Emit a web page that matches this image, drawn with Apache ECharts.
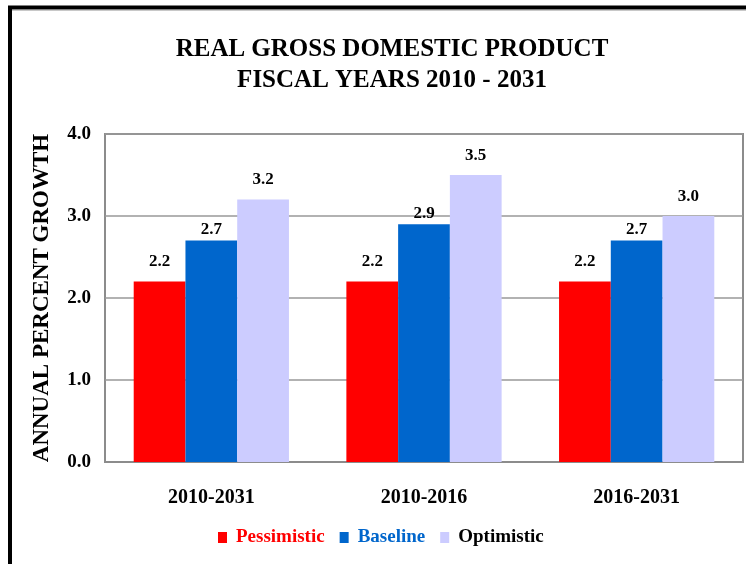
<!DOCTYPE html>
<html>
<head>
<meta charset="utf-8">
<script src="https://cdn.jsdelivr.net/npm/echarts@6/dist/echarts.min.js"></script>
<style>
  html, body { margin: 0; padding: 0; background: #fff; }
  #chart { width: 746px; height: 564px; }
</style>
</head>
<body>
<div id="chart"></div>
<script>
// data
const categories = ['2010-2031', '2010-2016', '2016-2031']
const seriesNames = ['Pessimistic', 'Baseline', 'Optimistic']
const pessimistic = [2.2, 2.2, 2.2]
const baseline = [2.7, 2.9, 2.7]
const optimistic = [3.2, 3.5, 3.0]
const yMin = 0
const yMax = 4
const yStep = 1

const colors = ['#ff0000', '#0066cc', '#ccccff']
const legendTextColors = ['#ff0000', '#0066cc', '#000000']
const font = '"Liberation Serif", "Times New Roman", serif'

const chart = echarts.init(document.getElementById('chart'))

function barSeries(name, values, idx, dist) {
  return {
    name: name,
    type: 'bar',
    data: values,
    barGap: '0%',
    barCategoryGap: '27%',
    itemStyle: { color: colors[idx] },
    label: {
      show: true,
      position: 'top',
      distance: dist,
      color: '#000',
      fontFamily: font,
      fontWeight: 'bold',
      fontSize: 17,
      formatter: p => p.value.toFixed(1)
    }
  }
}

const option = {
  animation: false,
  backgroundColor: '#fff',
  title: {
    text: 'REAL GROSS DOMESTIC PRODUCT\nFISCAL YEARS 2010 - 2031',
    left: 387,
    top: 29,
    textAlign: 'center',
    textStyle: {
      fontFamily: font,
      fontWeight: 'bold',
      fontSize: 25,
      lineHeight: 31,
      color: '#000'
    }
  },
  legend: {
    bottom: 12,
    left: 213,
    icon: 'rect',
    itemWidth: 9,
    itemHeight: 11,
    itemGap: 15,
    data: seriesNames.map((n, i) => ({
      name: n,
      textStyle: { color: legendTextColors[i] }
    })),
    textStyle: {
      fontFamily: font,
      fontWeight: 'bold',
      fontSize: 19,
      padding: [0, 0, 0, 4]
    }
  },
  grid: {
    left: 105,
    right: 3,
    top: 134,
    bottom: 102,
    show: true,
    borderColor: '#8c8c8c',
    borderWidth: 2
  },
  xAxis: {
    type: 'category',
    data: categories,
    axisLine: { show: true, lineStyle: { color: '#8c8c8c', width: 2 } },
    axisTick: { show: false },
    axisLabel: {
      margin: 26,
      color: '#000',
      fontFamily: font,
      fontWeight: 'bold',
      fontSize: 20
    }
  },
  yAxis: {
    type: 'value',
    min: yMin,
    max: yMax,
    interval: yStep,
    name: 'ANNUAL PERCENT GROWTH',
    nameLocation: 'middle',
    nameGap: 51,
    nameRotate: 90,
    nameTextStyle: {
      color: '#000',
      fontFamily: font,
      fontWeight: 'bold',
      fontSize: 23
    },
    axisLine: { show: false },
    axisTick: { show: false },
    splitLine: { lineStyle: { color: '#999', width: 1.5 } },
    axisLabel: {
      margin: 14,
      color: '#000',
      fontFamily: font,
      fontWeight: 'bold',
      fontSize: 19,
      formatter: v => v.toFixed(1)
    }
  },
  graphic: [
    {
      type: 'polyline',
      silent: true,
      shape: { points: [[10, 564], [10, 7.5], [746, 7.5]] },
      style: { stroke: '#000', lineWidth: 4, fill: null }
    },
    {
      type: 'line',
      silent: true,
      shape: { x1: 12, y1: 10.5, x2: 746, y2: 10.5 },
      style: { stroke: '#c8c8c8', lineWidth: 1 }
    }
  ],
  series: [
    barSeries(seriesNames[0], pessimistic, 0, 11),
    barSeries(seriesNames[1], baseline, 1, 2),
    barSeries(seriesNames[2], optimistic, 2, 11)
  ]
}

chart.setOption(option)
</script>
</body>
</html>
